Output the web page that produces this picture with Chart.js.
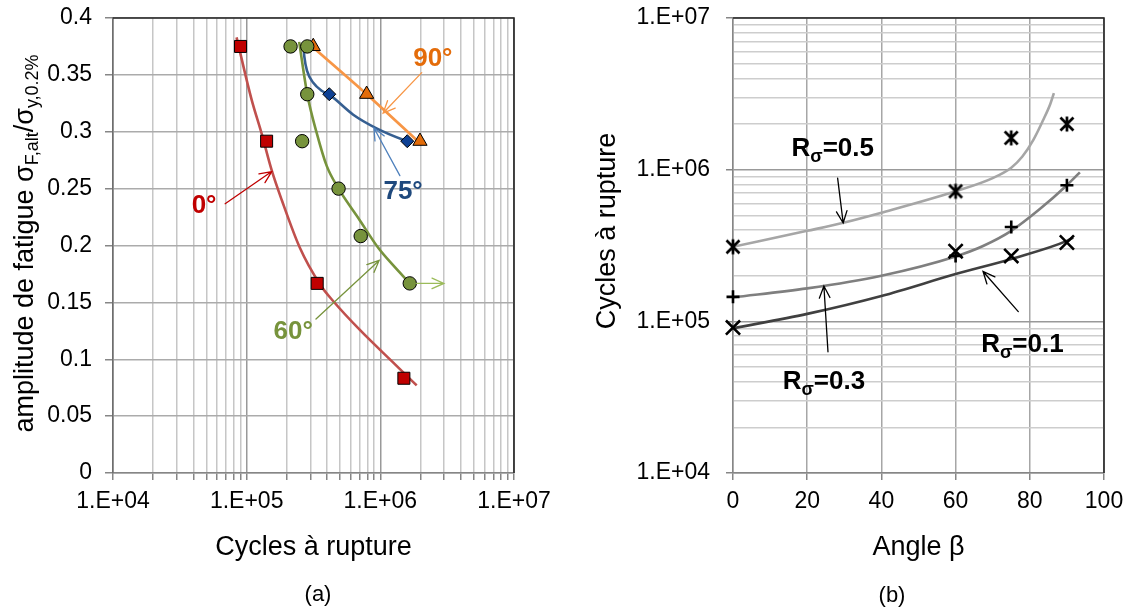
<!DOCTYPE html>
<html><head><meta charset="utf-8">
<script src="https://cdn.jsdelivr.net/npm/chart.js@4/dist/chart.umd.min.js"></script>
<style>
html,body{margin:0;padding:0;background:#fff;}
#wrap{position:relative;width:1129px;height:614px;overflow:hidden;background:#fff;}
#ca{position:absolute;left:0;top:0;}
#cb{position:absolute;left:565px;top:0;}
</style></head><body>
<div id="wrap"><canvas id="ca" width="565" height="614"></canvas><canvas id="cb" width="564" height="614"></canvas></div>
<script>
// ---------- tick definitions ----------
const minorMult = [2,3,4,5,6,7,8,9];
const decadesA = [1e4,1e5,1e6,1e7];
const decadesB = [1e4,1e5,1e6,1e7];
const ampTicks = [0,0.05,0.1,0.15,0.2,0.25,0.3,0.35,0.4];
const ampLabels = ['0','0.05','0.1','0.15','0.2','0.25','0.3','0.35','0.4'];
const angleTicks = [0,20,40,60,80,100];

// ---------- (a) test points: cycles to failure / amplitude ----------
const n0  = [9.0e4,1.41e5,3.37e5,1.5e6];
const a0  = [0.375,0.2917,0.1667,0.0833];
const n60 = [2.13e5,2.84e5,2.84e5,2.6e5,4.87e5,7.13e5,1.66e6];
const a60 = [0.375,0.375,0.333,0.2917,0.25,0.2083,0.1667];
const n75 = [4.15e5,1.59e6];
const a75 = [0.333,0.2917];
const n90 = [3.15e5,7.9e5,1.98e6];
const a90 = [0.375,0.333,0.2917];
// trend curves
const fitN0  = [8.4e4,1.09e5,1.29e5,1.54e5,1.83e5,2.5e5,3.53e5,4.45e5,7.0e5,1.25e6,1.87e6];
const fitA0  = [0.383,0.328,0.299,0.266,0.240,0.198,0.166,0.151,0.126,0.097,0.077];
const fitN60 = [2.47e5,2.84e5,3.34e5,3.97e5,4.87e5,6.86e5,9.64e5,1.26e6,1.66e6];
const fitA60 = [0.379,0.333,0.299,0.270,0.250,0.224,0.198,0.182,0.1667];
const fitN75 = [2.65e5,2.7e5,2.84e5,3.15e5,3.64e5,4.15e5,6.27e5,9.37e5,1.48e6,1.62e6];
const fitA75 = [0.378,0.366,0.353,0.343,0.336,0.3326,0.315,0.303,0.293,0.2915];
const fitN90 = [3.01e5,7.9e5,1.98e6];
const fitA90 = [0.376,0.333,0.290];

// ---------- (b) cycles to failure vs angle ----------
const angles = [0,60,75,90];
const cycR05 = [3.1e5,7.2e5,1.62e6,2.0e6];
const cycR03 = [1.45e5,2.7e5,4.19e5,7.9e5];
const cycR01 = [9.1e4,2.9e5,2.7e5,3.31e5];
const fitAngR05 = [0,20,30,40,60,70,75,78,81,83.5,85.5,86.5];
const fitCycR05 = [3.1e5,3.95e5,4.48e5,5.2e5,7.2e5,8.8e5,1.03e6,1.22e6,1.58e6,2.1e6,2.7e6,3.2e6];
const fitAngR03 = [0,20,40,60,67.4,75,82.7,90,93.5];
const fitCycR03 = [1.44e5,1.65e5,2.0e5,2.68e5,3.14e5,3.95e5,5.5e5,7.9e5,9.6e5];
const fitAngR01 = [0,20,40,60,75,90,91.7];
const fitCycR01 = [9.0e4,1.12e5,1.47e5,2.05e5,2.58e5,3.39e5,3.57e5];

// ---------- annotations (data coordinates) ----------
const labelsA = [
  {text:'90°', x:2.47e6, y:0.364, color:'#E46C0A'},
  {text:'75°', x:1.48e6, y:0.2476, color:'#1F497D'},
  {text:'0°',  x:4.8e4,  y:0.235, color:'#C00000'},
  {text:'60°', x:2.23e5, y:0.1245, color:'#77933C'}
];
const arrowsA = [
  {from:[2.04e6,0.352], to:[1.05e6,0.3165], color:'#F79646'},
  {from:[1.4e6,0.2614], to:[8.96e5,0.3033], color:'#4F81BD'},
  {from:[6.9e4,0.2367], to:[1.54e5,0.265], color:'#C00000'},
  {from:[3.3e5,0.1354], to:[9.8e5,0.1869], color:'#77933C'},
  {from:[1.87e6,0.1667], to:[2.99e6,0.1667], color:'#9BBB59'}
];
const labelsB = [
  {main:'R', sub:'σ', tail:'=0.5', x:26.9, y:1.42e6},
  {main:'R', sub:'σ', tail:'=0.3', x:24.5, y:4.11e4},
  {main:'R', sub:'σ', tail:'=0.1', x:78,   y:7.18e4}
];
const arrowsB = [
  {from:[28.2,8.8e5], to:[29.7,4.45e5]},
  {from:[25.6,6.3e4], to:[24.5,1.71e5]},
  {from:[76.9,1.16e5], to:[67.4,2.13e5]}
];

// ---------- helpers ----------
const FONT = "'Liberation Sans', Arial, sans-serif";
function pairs(xs, ys){ return xs.map((x,i)=>({x:x, y:ys[i]})); }
function isPow10(v){ const e=Math.round(Math.log10(v)); return Math.abs(Math.pow(10,e)-v) < v*1e-9; }
function sciLabel(v){ if(!isPow10(v)) return ''; const e=Math.round(Math.log10(v)); return '1.E+' + String(e).padStart(2,'0'); }
function logTicks(decades){ const t=[]; decades.forEach((d,i)=>{ t.push(d); if(i<decades.length-1) minorMult.forEach(m=>t.push(m*d)); }); return t; }
function arrow(ctx,x1,y1,x2,y2,color,w){
  ctx.save(); ctx.strokeStyle=color; ctx.lineWidth=w; ctx.lineCap='round';
  ctx.beginPath(); ctx.moveTo(x1,y1); ctx.lineTo(x2,y2);
  const ang=Math.atan2(y2-y1,x2-x1), L=13, a=0.42;
  ctx.moveTo(x2-L*Math.cos(ang-a), y2-L*Math.sin(ang-a)); ctx.lineTo(x2,y2);
  ctx.lineTo(x2-L*Math.cos(ang+a), y2-L*Math.sin(ang+a));
  ctx.stroke(); ctx.restore();
}
function drawRich(ctx, segs, cx, baseY, rotate){
  ctx.save();
  ctx.translate(cx, baseY);
  if(rotate) ctx.rotate(-Math.PI/2);
  let total=0;
  segs.forEach(s=>{ ctx.font=(s.bold?'bold ':'')+s.size+'px '+FONT; s.w=ctx.measureText(s.t).width; total+=s.w; });
  let x=-total/2;
  ctx.textAlign='left'; ctx.textBaseline='alphabetic';
  segs.forEach(s=>{ ctx.font=(s.bold?'bold ':'')+s.size+'px '+FONT; ctx.fillStyle=s.color||'#000'; ctx.fillText(s.t, x, s.dy||0); x+=s.w; });
  ctx.restore();
}
function frame(chart){
  const {ctx, chartArea:a} = chart;
  ctx.save(); ctx.strokeStyle='#262626'; ctx.lineWidth=1.6;
  ctx.beginPath(); ctx.moveTo(a.left, a.top); ctx.lineTo(a.right, a.top); ctx.lineTo(a.right, a.bottom); ctx.stroke();
  ctx.restore();
}
function makeStar(){
  const c=document.createElement('canvas'); c.width=20; c.height=20;
  const g=c.getContext('2d'); g.strokeStyle='#000'; g.lineWidth=2.7;
  const m=10, r=6.5;
  g.beginPath(); g.moveTo(m-r,m-r); g.lineTo(m+r,m+r); g.moveTo(m+r,m-r); g.lineTo(m-r,m+r);
  g.moveTo(m,m-r-1); g.lineTo(m,m+r+1); g.stroke();
  return c;
}

Chart.defaults.font.family = FONT;
Chart.defaults.color = '#000';

// ---------- chart (a) ----------
const plugA = {
  id:'annA',
  afterDatasetsDraw(chart){
    const {ctx, scales:{x,y}} = chart;
    frame(chart);
    arrowsA.forEach(r=>arrow(ctx, x.getPixelForValue(r.from[0]), y.getPixelForValue(r.from[1]),
      x.getPixelForValue(r.to[0]), y.getPixelForValue(r.to[1]), r.color, 1.3));
    ctx.save(); ctx.font='bold 26px '+FONT; ctx.textAlign='center'; ctx.textBaseline='middle';
    labelsA.forEach(l=>{ ctx.fillStyle=l.color; ctx.fillText(l.text, x.getPixelForValue(l.x), y.getPixelForValue(l.y)); });
    ctx.restore();
  },
  afterDraw(chart){
    const ctx=chart.ctx;
    drawRich(ctx, [{t:'amplitude de fatigue σ', size:27},{t:'F,alt', size:18, dy:5},{t:'/σ', size:27},{t:'y,0.2%', size:18, dy:5}], 33, 243.5, true);
    ctx.save(); ctx.font='22px '+FONT; ctx.fillStyle='#000'; ctx.textAlign='center'; ctx.textBaseline='middle';
    ctx.fillText('(a)', 318, 595); ctx.restore();
  }
};

new Chart(document.getElementById('ca'), {
  type:'scatter',
  data:{ datasets:[
    {data:pairs(n0,a0), pointStyle:'rect', pointRadius:8.5, pointBackgroundColor:'#C00000', pointBorderColor:'#000', pointBorderWidth:1, order:0, clip:false},
    {data:pairs(n60,a60), pointStyle:'circle', pointRadius:6.7, pointBackgroundColor:'#77933C', pointBorderColor:'#000', pointBorderWidth:1, order:0, clip:false},
    {data:pairs(n75,a75), pointStyle:'rectRot', pointRadius:6.5, pointBackgroundColor:'#0E4194', pointBorderColor:'#000', pointBorderWidth:1, order:0, clip:false},
    {data:pairs(n90,a90), pointStyle:'triangle', pointRadius:8.2, pointBackgroundColor:'#E36C09', pointBorderColor:'#000', pointBorderWidth:1, order:0, clip:false},
    {data:pairs(fitN0,fitA0), showLine:true, borderColor:'#C0504D', borderWidth:2.6, pointRadius:0, cubicInterpolationMode:'monotone', order:1},
    {data:pairs(fitN60,fitA60), showLine:true, borderColor:'#77933C', borderWidth:2.6, pointRadius:0, cubicInterpolationMode:'monotone', order:1},
    {data:pairs(fitN75,fitA75), showLine:true, borderColor:'#365F91', borderWidth:2.6, pointRadius:0, cubicInterpolationMode:'monotone', order:1},
    {data:pairs(fitN90,fitA90), showLine:true, borderColor:'#F79646', borderWidth:2.8, pointRadius:0, cubicInterpolationMode:'monotone', order:1}
  ]},
  options:{
    responsive:false, animation:false, devicePixelRatio:1,
    layout:{padding:{left:0,right:51,top:18,bottom:0}},
    plugins:{legend:{display:false}, tooltip:{enabled:false}},
    scales:{
      x:{ type:'logarithmic', position:'bottom', min:1e4, max:1e7,
        afterBuildTicks:s=>{ s.ticks = logTicks(decadesA).map(v=>({value:v})); },
        ticks:{autoSkip:false, maxRotation:0, minRotation:0, padding:8, color:'#000', font:{size:23}, callback:v=>sciLabel(v)},
        grid:{color:c=>(c.tick && isPow10(c.tick.value))?'#999999':'#c6c6c6', tickColor:'#868686', tickLength:7, lineWidth:1.5},
        border:{display:true, color:'#868686', width:1.5},
        title:{display:true, text:'Cycles à rupture', color:'#000', font:{size:27}, padding:{top:0,bottom:50}},
        afterFit:s=>{ s.height=141; s.paddingLeft=0; s.paddingRight=0; }
      },
      y:{ type:'linear', position:'left', min:0, max:0.4,
        afterBuildTicks:s=>{ s.ticks = ampTicks.map(v=>({value:v})); },
        ticks:{padding:13, color:'#000', font:{size:23}, callback:(v,i)=>ampLabels[i]},
        grid:{color:'#ababab', tickColor:'#868686', tickLength:8, lineWidth:1.5},
        border:{display:true, color:'#6e6e6e', width:1.6},
        afterFit:s=>{ s.width=113; s.paddingTop=0; s.paddingBottom=0; }
      }
    }
  },
  plugins:[plugA]
});

// ---------- chart (b) ----------
const star = makeStar();
const plugB = {
  id:'annB',
  afterDatasetsDraw(chart){
    const {ctx, scales:{x,y}} = chart;
    frame(chart);
    arrowsB.forEach(r=>arrow(ctx, x.getPixelForValue(r.from[0]), y.getPixelForValue(r.from[1]),
      x.getPixelForValue(r.to[0]), y.getPixelForValue(r.to[1]), '#000', 1.3));
    labelsB.forEach(l=>{
      drawRich(ctx, [{t:l.main, size:26, bold:true},{t:l.sub, size:18, bold:true, dy:6},{t:l.tail, size:26, bold:true}],
        x.getPixelForValue(l.x), y.getPixelForValue(l.y)+9, false);
    });
  },
  afterDraw(chart){
    const ctx=chart.ctx;
    drawRich(ctx, [{t:'Cycles à rupture', size:27}], 50.3, 231, true);
    ctx.save(); ctx.font='22px '+FONT; ctx.fillStyle='#000'; ctx.textAlign='center'; ctx.textBaseline='middle';
    ctx.fillText('(b)', 327, 596); ctx.restore();
  }
};

new Chart(document.getElementById('cb'), {
  type:'scatter',
  data:{ datasets:[
    {data:pairs(angles,cycR05), pointStyle:star, pointRadius:10, order:0, clip:false},
    {data:pairs(angles,cycR03), pointStyle:'cross', pointRadius:6.5, pointBorderColor:'#000', pointBorderWidth:2.6, order:0, clip:false},
    {data:pairs(angles,cycR01), pointStyle:'crossRot', pointRadius:10, pointBorderColor:'#000', pointBorderWidth:2.6, order:0, clip:false},
    {data:pairs(fitAngR05,fitCycR05), showLine:true, borderColor:'#A6A6A6', borderWidth:2.6, pointRadius:0, cubicInterpolationMode:'monotone', order:1},
    {data:pairs(fitAngR03,fitCycR03), showLine:true, borderColor:'#7F7F7F', borderWidth:2.6, pointRadius:0, cubicInterpolationMode:'monotone', order:1},
    {data:pairs(fitAngR01,fitCycR01), showLine:true, borderColor:'#404040', borderWidth:2.6, pointRadius:0, cubicInterpolationMode:'monotone', order:1}
  ]},
  options:{
    responsive:false, animation:false, devicePixelRatio:1,
    layout:{padding:{left:0,right:25,top:18,bottom:0}},
    plugins:{legend:{display:false}, tooltip:{enabled:false}},
    scales:{
      x:{ type:'linear', position:'bottom', min:0, max:100,
        afterBuildTicks:s=>{ s.ticks = angleTicks.map(v=>({value:v})); },
        ticks:{autoSkip:false, maxRotation:0, padding:8, color:'#000', font:{size:23}},
        grid:{color:'#a6a6a6', tickColor:'#868686', tickLength:7, lineWidth:1.5},
        border:{display:true, color:'#868686', width:1.5},
        title:{display:true, text:'Angle β', color:'#000', font:{size:27}, padding:{top:0,bottom:50}},
        afterFit:s=>{ s.height=141; s.paddingLeft=0; s.paddingRight=0; }
      },
      y:{ type:'logarithmic', position:'left', min:1e4, max:1e7,
        afterBuildTicks:s=>{ s.ticks = logTicks(decadesB).map(v=>({value:v})); },
        ticks:{autoSkip:false, padding:16, color:'#000', font:{size:23}, callback:v=>sciLabel(v)},
        grid:{color:c=>(c.tick && isPow10(c.tick.value))?'#999999':'#cdcdcd',
              tickColor:c=>(c.tick && isPow10(c.tick.value))?'#868686':'rgba(0,0,0,0)', tickLength:7, lineWidth:1.5},
        border:{display:true, color:'#868686', width:1.5},
        afterFit:s=>{ s.width=168; s.paddingTop=0; s.paddingBottom=0; }
      }
    }
  },
  plugins:[plugB]
});
</script>
</body></html>
